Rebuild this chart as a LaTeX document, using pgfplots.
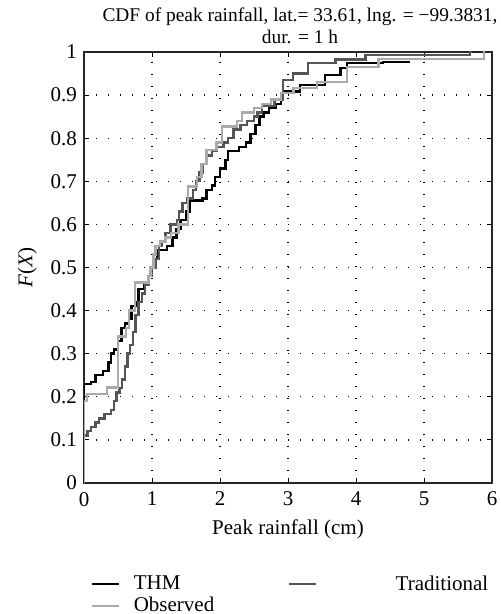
\documentclass[border=0pt]{standalone}
\usepackage{pgfplots}
\pgfplotsset{compat=1.18}
\usepackage{fontspec}
\setmainfont{Liberation Serif}
\definecolor{darkg}{RGB}{85,85,85}
\definecolor{lightg}{RGB}{170,170,170}
\begin{document}
\begin{tikzpicture}
\begin{axis}[
  name=ax,
  scale only axis,
  width=204pt, height=215.5pt,
  xmin=0, xmax=6, ymin=0, ymax=1,
  xtick={0,1,2,3,4,5,6},
  ytick={0,0.1,0.2,0.3,0.4,0.5,0.6,0.7,0.8,0.9,1},
  yticklabels={0,0.1,0.2,0.3,0.4,0.5,0.6,0.7,0.8,0.9,1},
  /pgf/number format/assume math mode=true,
  tick align=inside,
  major tick length=2.5pt,
  tick style={black, line width=0.5pt},
  axis line style={line width=0.7pt, black!85},
  grid=major,
  major grid style={black, line width=0.6pt, dash pattern=on 0.6pt off 5.4pt},
  tick label style={font=\fontsize{10.5}{12}\selectfont},
  xticklabel style={yshift=-1pt},
  xlabel={Peak rainfall (cm)},
  ylabel={\textit{F}(\textit{X})},
  label style={font=\fontsize{10.5}{12}\selectfont},
  xlabel style={yshift=0pt},
  ylabel style={yshift=0pt},
  title={CDF of peak rainfall, lat.= 33.61, lng. = −99.3831,\\ dur. = 1 h},
  title style={align=center, font=\fontsize{9.7}{11}\selectfont, xshift=6pt, yshift=-5.5pt},
  legend columns=2,
  legend cell align=left,
  legend style={draw=none, fill=none, at={(axis description cs:0,-0.195)}, anchor=north west,
    font=\fontsize{10.5}{12}\selectfont, row sep=-2pt,
    /tikz/every odd column/.append style={column sep=5pt},
    /tikz/every even column/.append style={column sep=35pt}},
  legend image code/.code={\draw[#1] (0pt,0pt) -- (13.5pt,0pt);},
]
\addplot[const plot, black, line width=1.2pt] coordinates {
(0,0) (0,0.23) (0.1,0.235) (0.17,0.25) (0.28,0.26) (0.36,0.28) (0.4,0.30) (0.44,0.31)
(0.5,0.33) (0.55,0.36) (0.6,0.37) (0.66,0.38) (0.7,0.41) (0.78,0.42) (0.8,0.45)
(0.88,0.46) (0.95,0.48) (1.0,0.50) (1.05,0.52) (1.08,0.54) (1.22,0.55) (1.3,0.57)
(1.36,0.59) (1.42,0.61) (1.5,0.63) (1.56,0.655) (1.74,0.66) (1.8,0.68) (1.88,0.69)
(1.93,0.71) (2.0,0.73) (2.08,0.75) (2.12,0.77) (2.28,0.78) (2.38,0.79) (2.45,0.81)
(2.52,0.83) (2.58,0.85) (2.64,0.86) (2.72,0.87) (2.82,0.88) (2.9,0.90) (2.93,0.908)
(3.18,0.923) (3.54,0.947) (3.77,0.963) (3.87,0.974) (4.4,0.977) (4.8,0.977)
};
\addlegendentry{THM}
\addplot[const plot, darkg, line width=1.2pt] coordinates {
(0,0) (0,0.11) (0.05,0.12) (0.1,0.13) (0.17,0.14) (0.22,0.15) (0.3,0.16) (0.4,0.17)
(0.44,0.19) (0.48,0.21) (0.52,0.22) (0.56,0.24) (0.6,0.27) (0.64,0.30) (0.68,0.32)
(0.72,0.35) (0.76,0.39) (0.8,0.42) (0.85,0.44) (0.9,0.46) (0.95,0.48) (1.0,0.50)
(1.05,0.52) (1.1,0.55) (1.15,0.56) (1.2,0.58) (1.27,0.60) (1.37,0.61) (1.4,0.63)
(1.45,0.65) (1.52,0.66) (1.6,0.68) (1.65,0.70) (1.7,0.72) (1.75,0.74) (1.8,0.76)
(1.88,0.77) (1.95,0.78) (2.05,0.79) (2.12,0.80) (2.2,0.82) (2.3,0.83) (2.4,0.84)
(2.5,0.85) (2.55,0.86) (2.62,0.875) (2.8,0.89) (2.93,0.935) (3.07,0.95) (3.29,0.974)
(3.7,0.983) (4.14,0.993) (5.68,1.0) (5.7,1.0)
};
\addlegendentry{\hspace*{32pt}Traditional}
\addplot[const plot, lightg, line width=1.2pt] coordinates {
(0,0) (0,0.19) (0.04,0.207) (0.34,0.222) (0.5,0.34) (0.62,0.36) (0.66,0.40) (0.75,0.465)
(0.95,0.48) (0.98,0.50) (1.02,0.53) (1.05,0.55) (1.12,0.56) (1.2,0.57) (1.28,0.58)
(1.39,0.60) (1.53,0.688) (1.66,0.71) (1.73,0.74) (1.8,0.773) (1.95,0.79) (2.03,0.827)
(2.25,0.84) (2.32,0.86) (2.5,0.87) (2.62,0.88) (2.75,0.89) (2.9,0.905) (3.08,0.916)
(3.43,0.93) (3.87,0.965) (4.33,0.984) (5.88,1.0) (5.9,1.0)
};
\addlegendentry{Observed}
\end{axis}
\pgfresetboundingbox
\path ([xshift=-42pt,yshift=-65.5pt]ax.south west) rectangle ([xshift=4.5pt,yshift=26pt]ax.north east);
\end{tikzpicture}
\end{document}
